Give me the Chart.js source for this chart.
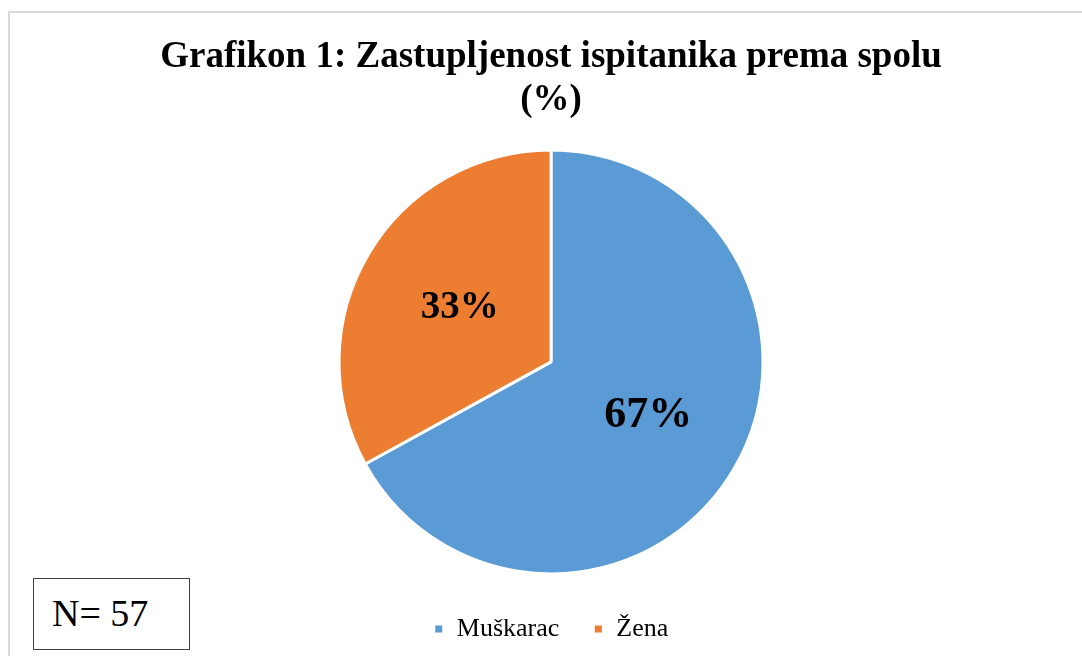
<!DOCTYPE html>
<html>
<head>
<meta charset="utf-8">
<script src="https://cdn.jsdelivr.net/npm/chart.js@4"></script>
<style>
  html, body { margin: 0; padding: 0; background: #fff; }
  #wrap { position: relative; width: 1082px; height: 656px; overflow: hidden; }
  #frame {
    position: absolute; left: 8px; top: 11px; width: 1200px; height: 700px;
    border: 2px solid #d9d9d9; box-sizing: border-box;
  }
  #nbox {
    position: absolute; left: 33px; top: 578px; width: 157px; height: 72px;
    border: 1.5px solid #404040; box-sizing: border-box; background: #fff;
    font-family: "Liberation Serif", serif; font-size: 38px; color: #000;
    line-height: 69px; padding-left: 18px;
  }
  canvas { position: absolute; left: 0; top: 0; }
</style>
</head>
<body>
<div id="wrap">
  <div id="frame"></div>
  <canvas id="pieChart" width="1082" height="656"></canvas>
  <div id="nbox">N= 57</div>
</div>
<script>
const categories = ['Muškarac', 'Žena'];
const shares = [67, 33];
const sliceColors = ['#5B9BD5', '#ED7D31'];
const titleLines = ['Grafikon 1: Zastupljenost ispitanika prema spolu', '(%)'];

// percentage labels in the middle of each slice
const sliceLabels = {
    id: 'sliceLabels',
    afterDatasetsDraw(chart) {
        const ctx = chart.ctx;
        const meta = chart.getDatasetMeta(0);
        ctx.save();
        ctx.fillStyle = '#000';
        ctx.textAlign = 'center';
        ctx.textBaseline = 'middle';
        meta.data.forEach((arc, i) => {
            const pos = arc.tooltipPosition();
            const size = i === 0 ? 44 : 39;
            ctx.font = 'bold ' + size + 'px "Liberation Serif", serif';
            ctx.fillText(shares[i] + '%', pos.x + (i === 0 ? 6 : 0), pos.y);
        });
        ctx.restore();
    }
};

const ctx = document.getElementById('pieChart').getContext('2d');
new Chart(ctx, {
    type: 'pie',
    data: {
        labels: categories,
        datasets: [{
            data: shares,
            backgroundColor: sliceColors,
            borderColor: '#fff',
            borderWidth: 3
        }]
    },
    options: {
        responsive: false,
        animation: false,
        radius: 212,
        layout: { padding: { top: 11, bottom: 4, left: 20, right: 0 } },
        plugins: {
            title: {
                display: true,
                text: titleLines,
                color: '#000',
                font: { family: '"Liberation Serif", serif', size: 37, weight: 'bold', lineHeight: 1.16 },
                padding: { top: 25, bottom: 20 }
            },
            legend: {
                position: 'bottom',
                labels: {
                    color: '#000',
                    boxWidth: 10,
                    boxHeight: 10,
                    padding: 34,
                    font: { family: '"Liberation Serif", serif', size: 26 }
                }
            },
            tooltip: { enabled: false }
        }
    },
    plugins: [sliceLabels]
});
</script>
</body>
</html>
